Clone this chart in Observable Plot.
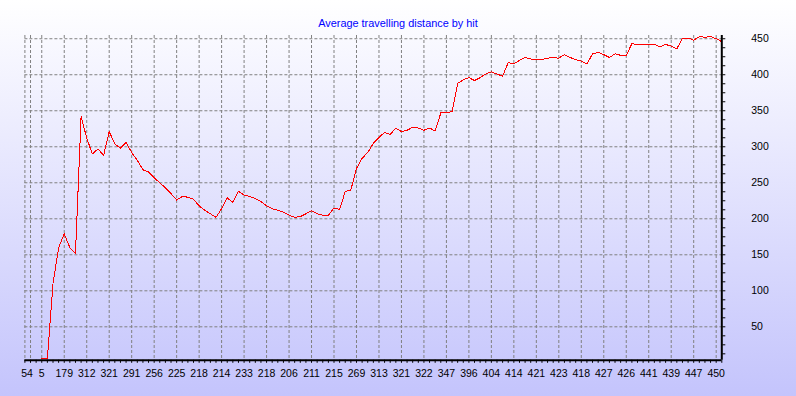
<!DOCTYPE html>
<html><head><meta charset="utf-8">
<script src="https://cdn.jsdelivr.net/npm/d3@7"></script>
<script src="https://cdn.jsdelivr.net/npm/@observablehq/plot@0.6"></script>
<style>
html,body{margin:0;padding:0;background:#fff;}
#chart{position:relative;width:796px;height:396px;background:linear-gradient(to bottom,#ffffff 0%,#c4c4fc 100%);overflow:hidden;}
#chart svg{position:absolute;left:0;top:0;}
</style></head><body><div id="chart"></div>
<script>
const title = "Average travelling distance by hit";
// value per hit index (index 0..123); null = no value drawn
const distance = [null, null, 6, 6, 110, 160, 179, 160, 152, 342,
  312, 290, 297, 288, 321, 304, 298, 306, 292, 281,
  268, 265, 257, 250, 243, 235, 226, 231, 230, 227,
  218, 212, 207, 202, 214, 229, 223, 238, 233, 231,
  228, 224, 218, 214, 212, 209, 205, 202, 203, 207,
  211, 207, 205, 205, 215, 213, 238, 240, 270, 284,
  292, 305, 313, 320, 317, 326, 321, 323, 327, 326,
  323, 326, 322, 347, 347, 349, 388, 393, 396, 392,
  396, 401, 404, 401, 398, 417, 415, 420, 424, 422,
  421, 421, 423, 424, 423, 428, 424, 421, 419, 415,
  429, 431, 428, 424, 429, 427, 427, 443, 442, 442,
  442, 442, 439, 442, 440, 436, 451, 451, 448, 453,
  452, 453, 450, 446];
const tickIndex = [0, 2, 6, 10, 14, 18, 22, 26, 30, 34, 38, 42, 46, 50, 54, 58, 62, 66, 70, 74, 78, 82, 86, 90, 94, 98, 102, 106, 110, 114, 118, 122];
const tickLabels = ["54", "5", "179", "312", "321", "291", "256", "225", "218", "214", "233", "218", "206", "211", "215", "269", "313", "321", "322", "347", "396", "404", "414", "421", "423", "418", "427", "426", "441", "439", "447", "450"];
const yTicks = [50, 100, 150, 200, 250, 300, 350, 400, 450];
const yMinorTicks = d3.range(12.5, 451, 12.5);
const xDomain = [-1, 123];
const yDomain = [3.5, 454.5];

const data = distance.map((v, i) => ({i, v})).filter(d => d.v != null);
const labelOf = new Map(tickIndex.map((t, k) => [t, tickLabels[k]]));
const grid = {stroke: "#808080", strokeOpacity: 1, strokeDasharray: "3,2", strokeWidth: 1};

const svg = Plot.plot({
  width: 796, height: 396,
  marginLeft: 24.4, marginRight: 74.7, marginTop: 35, marginBottom: 36.2,
  x: {type: "linear", domain: xDomain, label: null},
  y: {domain: yDomain, label: null},
  style: {background: "transparent", fontFamily: "'Liberation Sans', Arial, sans-serif", fontSize: "10.5px", color: "#000", overflow: "visible"},
  marks: [
    Plot.gridY(yTicks, grid),
    Plot.gridX([xDomain[0], ...tickIndex], grid),
    Plot.line(data, {x: "i", y: "v", stroke: "#ff0000", strokeWidth: 1, shapeRendering: "crispEdges"}),
    Plot.ruleY([yDomain[0]], {stroke: "#000", strokeWidth: 2}),
    Plot.ruleX([xDomain[1]], {stroke: "#000", strokeWidth: 2}),
    Plot.axisX(d3.range(xDomain[0], xDomain[1] + 1), {tickSize: 3, tickFormat: () => "", stroke: "#000", label: null}),
    Plot.axisX(tickIndex.slice(1), {tickSize: 0, tickPadding: 9.5, tickFormat: d => labelOf.get(d), fill: "#000", label: null}),
    Plot.axisX(tickIndex.slice(0, 1), {tickSize: 0, tickPadding: 9.5, dx: -3.5, tickFormat: d => labelOf.get(d), fill: "#000", label: null}),
    Plot.axisY(yMinorTicks, {anchor: "right", tickSize: 3, tickFormat: () => "", stroke: "#000", label: null}),
    Plot.axisY(yTicks, {anchor: "right", tickSize: 0, tickPadding: 29.4, textAnchor: "start", fill: "#000", label: null})
  ]
});

d3.select(svg).append("text")
  .attr("x", 398).attr("y", 26.7)
  .attr("text-anchor", "middle")
  .attr("fill", "#0000ff")
  .style("font-family", "'Liberation Sans', Arial, sans-serif")
  .style("font-size", "10.9px")
  .text(title);

document.getElementById("chart").appendChild(svg);
</script>
</body></html>
